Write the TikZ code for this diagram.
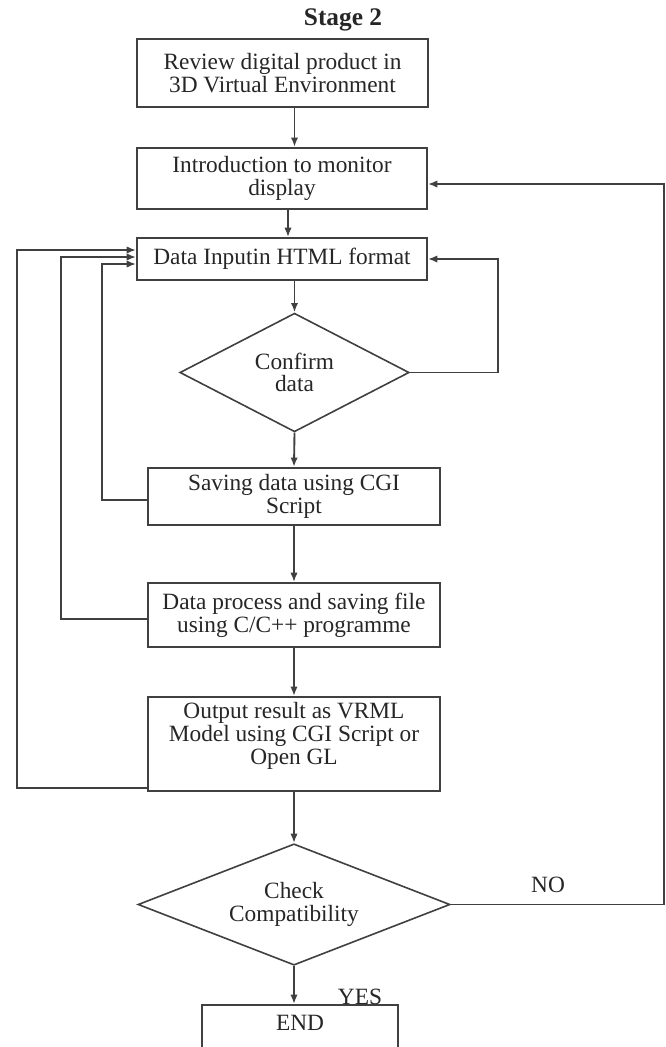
\documentclass[tikz,border=0pt]{standalone}
\usepackage{fontspec}
\setmainfont{Liberation Serif}
\usetikzlibrary{shapes.geometric,arrows.meta}

\begin{document}
\begin{tikzpicture}[x=0.75pt,y=-0.75pt,>={Latex[length=7pt,width=5.5pt]},
  every node/.style={font=\fontsize{17.5}{17}\selectfont,text=black!85},
  box/.style={draw=black!75,line width=1.4pt,align=center,inner sep=2pt},
  dec/.style={diamond,draw=black!75,line width=1.2pt,align=center,inner sep=0pt,shape aspect=2.5},
  ln/.style={->,draw=black!75,line width=1.4pt}]
  \useasboundingbox (0,0) rectangle (666,1047);
  \node (t) at (343,20) {\fontsize{19}{19}\selectfont\bfseries Stage 2};
  \node [box,minimum width=218pt,minimum height=51pt] (b1) at (282.5,73) {Review digital product in\\3D Virtual Environment};
  \node [box,minimum width=217.5pt,minimum height=46pt] (b2) at (282,178.5) {Introduction to monitor\\display};
  \node [box,minimum width=217.5pt,minimum height=31.5pt] (b3) at (282,259) {Data Inputin HTML format};
  \node [dec,minimum width=172pt,minimum height=89pt] (d1) at (294.5,372.5) {Confirm\\data};
  \node [box,minimum width=219pt,minimum height=43pt] (b4) at (294,496.5) {Saving data using CGI\\Script};
  \node [box,minimum width=219pt,minimum height=48pt] (b5) at (294,615) {Data process and saving file\\using C/C++ programme};
  \node [box,anchor=north,minimum width=219pt,inner ysep=5.5pt,text height=45pt,text depth=14.5pt] (b6) at (294,696) {Output result as VRML\\Model using CGI Script or\\Open GL};
  \node [dec,minimum width=234pt,minimum height=91pt] (d2) at (294,904.5) {Check\\Compatibility};
  \node [box,anchor=north,minimum width=147pt,inner ysep=8pt,text height=11.5pt,text depth=22pt] (e) at (300,1004) {END};
  \node (no) at (548,885) {NO};
  \node (yes) at (360,997) {YES};
  % feedback corners
  \coordinate (l1) at (17,250);
  \coordinate (l2) at (61,257);
  \coordinate (l3) at (102,264);
  \coordinate (r1) at (498,259);
  \coordinate (r2) at (664,184);
  % main flow
  \draw [ln] (b1.south -| d1.north) -- (b2.north -| d1.north);
  \draw [ln] ([xshift=4.5pt]b2.south) -- ([xshift=4.5pt]b3.north);
  \draw [ln] (b3.south -| d1.north) -- (d1.north);
  \draw [ln] (d1.south) -- (b4.north);
  \draw [ln] (b4.south) -- (b5.north);
  \draw [ln] (b5.south) -- (b6.north);
  \draw [ln] (b6.south) -- (d2.north);
  \draw [ln] (d2.south) -- (e.north -| d2.south);
  % loops back
  \draw [ln] (d1.east) -| (r1) -- (b3.east);
  \draw [ln] ([yshift=-2.6pt]b4.west) -| (l3) -- (l3 -| b3.west);
  \draw [ln] ([yshift=-3pt]b5.west) -| (l2) -- (l2 -| b3.west);
  \draw [ln] ([yshift=3pt]b6.south west) -| (l1) -- (l1 -| b3.west);
  \draw [ln] (d2.east) -| (r2) -- (r2 -| b2.east);
\end{tikzpicture}
\end{document}
